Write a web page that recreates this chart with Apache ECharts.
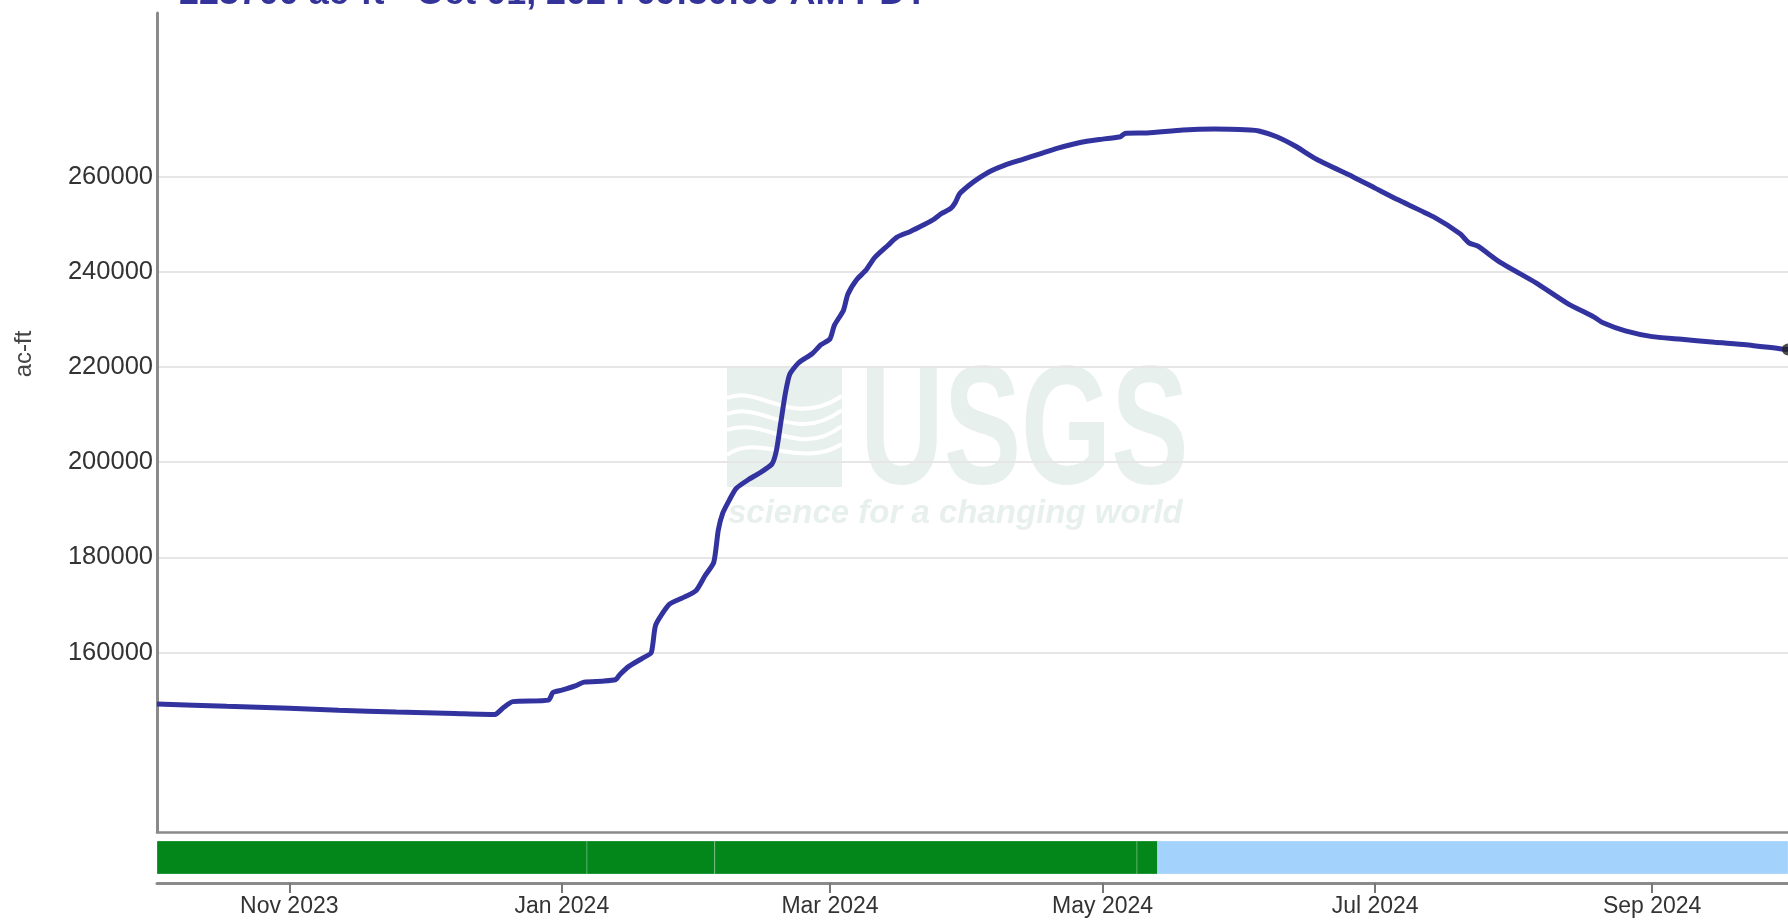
<!DOCTYPE html>
<html>
<head>
<meta charset="utf-8">
<script src="https://cdn.jsdelivr.net/npm/echarts@6/dist/echarts.min.js"></script>
<style>
html, body { margin: 0; padding: 0; background: #fff; }
#main { width: 1788px; height: 920px; }
</style>
</head>
<body>
<div id="main"></div>
<script>
// storage readings (ac-ft)
var dates = [
  '2023-10-02 09:30', '2023-10-18', '2023-11-01', '2023-11-12', '2023-11-25', '2023-12-08',
  '2023-12-17', '2023-12-19', '2023-12-21', '2023-12-29', '2023-12-30', '2024-01-01',
  '2024-01-04', '2024-01-06', '2024-01-10', '2024-01-13', '2024-01-14', '2024-01-16',
  '2024-01-19', '2024-01-21', '2024-01-22', '2024-01-25', '2024-01-28', '2024-01-31',
  '2024-02-02', '2024-02-04', '2024-02-05', '2024-02-06', '2024-02-07 12:00', '2024-02-09',
  '2024-02-12', '2024-02-14', '2024-02-17', '2024-02-18', '2024-02-19', '2024-02-20',
  '2024-02-21', '2024-02-23', '2024-02-26', '2024-02-28', '2024-03-01', '2024-03-02',
  '2024-03-04', '2024-03-05', '2024-03-07', '2024-03-09', '2024-03-11', '2024-03-14',
  '2024-03-16', '2024-03-19', '2024-03-22', '2024-03-24', '2024-03-26', '2024-03-28',
  '2024-03-29', '2024-03-30', '2024-04-01', '2024-04-03', '2024-04-06', '2024-04-09',
  '2024-04-13', '2024-04-17', '2024-04-21', '2024-04-26', '2024-05-01', '2024-05-05',
  '2024-05-06', '2024-05-11', '2024-05-19', '2024-05-26', '2024-06-03', '2024-06-05',
  '2024-06-09', '2024-06-13', '2024-06-18', '2024-06-26', '2024-07-01', '2024-07-06',
  '2024-07-14', '2024-07-20', '2024-07-22', '2024-07-24', '2024-07-29', '2024-08-06',
  '2024-08-13', '2024-08-19', '2024-08-21', '2024-08-26', '2024-09-01', '2024-09-07',
  '2024-09-15', '2024-09-22', '2024-09-30', '2024-10-01 09:30'
]
var storage = [
  149200, 148700, 148300, 147900, 147500, 147200,
  147000, 148500, 149700, 150000, 151600, 152100,
  153000, 153800, 154000, 154300, 155400, 157100,
  158800, 160000, 165800, 170100, 171500, 173000,
  176100, 179000, 185700, 189300, 192100, 194500,
  196500, 197600, 199600, 202400, 208400, 214400,
  218500, 220900, 222800, 224700, 225900, 228800,
  231900, 235300, 238400, 240300, 243000, 245600,
  247300, 248500, 249900, 250900, 252300, 253300,
  254500, 256400, 258100, 259500, 261200, 262400,
  263600, 264800, 266000, 267200, 267900, 268400,
  269100, 269200, 269800, 270000, 269800, 269600,
  268400, 266500, 263600, 260000, 257600, 255200,
  251600, 248000, 246100, 245400, 242000, 237700,
  233400, 230500, 229300, 227600, 226400, 225900,
  225200, 224700, 223800, 223700
]

// approval status strip under the plot
var statusStart = ['2023-10-02 09:30', '2024-01-06 15:00', '2024-02-04 05:00', '2024-05-08 17:00', '2024-05-13 08:00']
var statusEnd = ['2024-01-06 15:00', '2024-02-04 05:00', '2024-05-08 17:00', '2024-05-13 08:00', '2024-10-01 09:30']
var statusColor = ['#03871a', '#03871a', '#03871a', '#03871a', '#a3d3fc']

var xTicks = ['2023-11-01', '2024-01-01', '2024-03-01', '2024-05-01', '2024-07-01', '2024-09-01']
var xTickLabels = ['Nov 2023', 'Jan 2024', 'Mar 2024', 'May 2024', 'Jul 2024', 'Sep 2024']
var yTicks = [160000, 180000, 200000, 220000, 240000, 260000]

var titleText = '223700 ac-ft - Oct 01, 2024 09:30:00 AM PDT'

function toTime(s) {
    return +echarts.time.parse(s)
}

var xMin = toTime(dates[0]), xMax = toTime(dates[dates.length - 1])
var xTickTimes = xTicks.map(toTime)

var lineData = []
for (var i = 0; i < dates.length; i++) {
    lineData.push([toTime(dates[i]), storage[i]])
}
var statusData = statusStart.map(function (s, i) {
    return [toTime(s), toTime(statusEnd[i])]
})

var myChart = echarts.init(document.getElementById('main'))

var wmColor = '#e8f0ed'

// white waves across the logo block
function wave(x1, y1, cx1, cy1, cx2, cy2, x2, y2) {
    return {
        type: 'bezierCurve', z: -4,
        shape: { x1: x1, y1: y1, cpx1: cx1, cpy1: cy1, cpx2: cx2, cpy2: cy2, x2: x2, y2: y2 },
        style: { fill: null, stroke: '#fff', lineWidth: 4 }
    }
}

var option = {
    animation: false,
    backgroundColor: '#fff',
    textStyle: { fontFamily: 'Liberation Sans, Arial, sans-serif' },
    grid: [
        { left: 157, right: -8, top: 13, bottom: 88 },
        { left: 157, right: -8, top: 841, height: 33 }
    ],
    xAxis: [
        {
            // time stored as ms, value axis so ticks can be placed at month starts
            type: 'value', gridIndex: 0, min: xMin, max: xMax,
            axisLine: { show: true, onZero: false, lineStyle: { color: '#8a8a8a', width: 2.5 } },
            axisTick: { show: false },
            axisLabel: { show: false },
            splitLine: { show: false }
        },
        {
            type: 'value', gridIndex: 1, min: xMin, max: xMax, offset: 9,
            axisLine: { show: true, onZero: false, lineStyle: { color: '#8a8a8a', width: 3 } },
            axisTick: { show: true, length: 10, customValues: xTickTimes, lineStyle: { color: '#777', width: 2 } },
            axisLabel: {
                customValues: xTickTimes, margin: 12, color: '#333', fontSize: 23,
                formatter: function (v) {
                    var k = xTickTimes.indexOf(v)
                    return k >= 0 ? xTickLabels[k] : ''
                }
            },
            splitLine: { show: false }
        }
    ],
    yAxis: [
        {
            type: 'value', gridIndex: 0, min: 122300, max: 294400,
            axisLine: { show: true, lineStyle: { color: '#8a8a8a', width: 3 } },
            axisTick: { show: false, customValues: yTicks },
            axisLabel: {
                customValues: yTicks, color: '#333', fontSize: 25.5, margin: 4,
                formatter: function (v) { return String(v) }
            },
            splitLine: { show: true, lineStyle: { color: '#e6e6e6', width: 2 } }
        },
        { type: 'value', gridIndex: 1, min: 0, max: 1, show: false }
    ],
    graphic: [
        {
            type: 'text', x: 179, y: -5.5, z: 10,
            style: { text: titleText, font: 'bold 35.9px Liberation Sans', fill: '#333399', textVerticalAlign: 'middle' }
        },
        {
            type: 'text', x: 24, y: 354, rotation: Math.PI / 2,
            style: { text: 'ac-ft', font: '24px Liberation Sans', fill: '#444', textAlign: 'center', textVerticalAlign: 'middle' }
        },
        // USGS watermark
        { type: 'rect', z: -5, shape: { x: 727, y: 367, width: 115, height: 120 }, style: { fill: wmColor } },
        wave(727, 398, 760, 384, 790, 430, 842, 396),
        wave(727, 414, 762, 400, 794, 446, 842, 410),
        wave(727, 430, 764, 416, 798, 460, 842, 426),
        wave(727, 455, 758, 432, 800, 470, 842, 444),
        {
            type: 'text', x: 860, y: 437, scaleX: 0.69, z: -5,
            style: { text: 'USGS', font: 'bold 168px Liberation Sans', fill: wmColor, textVerticalAlign: 'middle' }
        },
        {
            type: 'text', x: 728, y: 514, z: -5,
            style: { text: 'science for a changing world', font: 'italic bold 33px Liberation Sans', fill: wmColor, textVerticalAlign: 'middle' }
        }
    ],
    series: [
        {
            name: 'ac-ft', type: 'line', xAxisIndex: 0, yAxisIndex: 0,
            data: lineData, symbol: 'none', smooth: 0.2,
            lineStyle: { color: '#3333a0', width: 5 }, z: 3
        },
        {
            type: 'scatter', xAxisIndex: 0, yAxisIndex: 0,
            data: [lineData[lineData.length - 1]], symbolSize: 12,
            itemStyle: { color: '#222' }, z: 4
        },
        {
            type: 'custom', xAxisIndex: 1, yAxisIndex: 1,
            data: statusData,
            encode: { x: [0, 1] },
            renderItem: function (params, api) {
                var p0 = api.coord([api.value(0), 1])
                var p1 = api.coord([api.value(1), 0])
                return {
                    type: 'rect',
                    shape: { x: p0[0], y: p0[1], width: p1[0] - p0[0], height: p1[1] - p0[1] },
                    style: { fill: statusColor[params.dataIndex], stroke: 'rgba(255,255,255,0.25)', lineWidth: 1 }
                }
            }
        }
    ]
}

myChart.setOption(option)
</script>
</body>
</html>
